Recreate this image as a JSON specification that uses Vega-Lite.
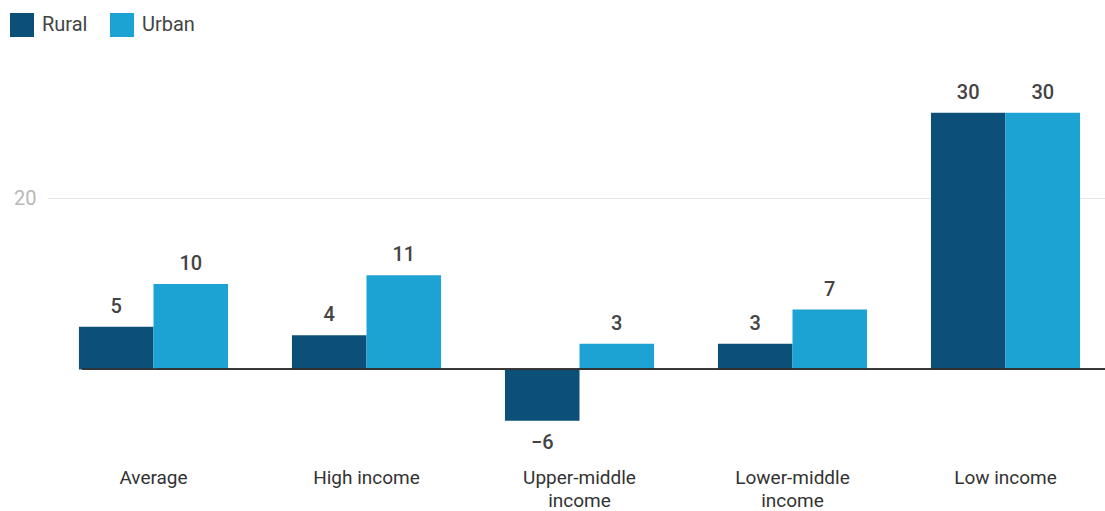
{
  "$schema": "https://vega.github.io/schema/vega-lite/v6.json",
  "autosize": {"type": "none"},
  "padding": {"left": 47, "top": 70, "right": 0, "bottom": 56},
  "width": 1065,
  "height": 385,
  "background": "white",
  "config": {"font": "Roboto", "view": {"stroke": null}},
  "data": {"values": [
    {"group": "Average", "area": "Rural", "value": 5},
    {"group": "Average", "area": "Urban", "value": 10},
    {"group": "High income", "area": "Rural", "value": 4},
    {"group": "High income", "area": "Urban", "value": 11},
    {"group": "Upper-middle income", "area": "Rural", "value": -6},
    {"group": "Upper-middle income", "area": "Urban", "value": 3},
    {"group": "Lower-middle income", "area": "Rural", "value": 3},
    {"group": "Lower-middle income", "area": "Urban", "value": 7},
    {"group": "Low income", "area": "Rural", "value": 30},
    {"group": "Low income", "area": "Urban", "value": 30}
  ]},
  "encoding": {
    "x": {"field": "group", "type": "nominal", "sort": null,
      "scale": {"paddingInner": 0.3, "paddingOuter": 0.15},
      "axis": {"title": null, "domain": false, "ticks": false, "labelAngle": 0,
        "labelFontSize": 19, "labelColor": "#333", "labelPadding": 13,
        "labelExpr": "indexof(datum.value, '-middle') > 0 ? split(datum.value, ' ') : datum.value",
        "labelLineHeight": 23}},
    "xOffset": {"field": "area", "type": "nominal", "sort": ["Rural", "Urban"]}
  },
  "layer": [
    {
      "mark": {"type": "bar"},
      "encoding": {
        "y": {"field": "value", "type": "quantitative",
          "scale": {"domain": [-10, 35], "nice": false, "zero": false},
          "axis": {"title": null, "values": [20], "domain": false, "ticks": false,
            "labelFontSize": 20, "labelColor": "#b8b8b8", "labelPadding": 11,
            "gridColor": "#e8e8e8", "gridWidth": 1}},
        "color": {"field": "area", "type": "nominal",
          "scale": {"domain": ["Rural", "Urban"], "range": ["#0c4f78", "#1ca2d3"]},
          "legend": {"title": null, "orient": "none", "legendX": -37, "legendY": -57,
            "direction": "horizontal", "symbolType": "square", "symbolSize": 576,
            "symbolStrokeWidth": 0, "labelFontSize": 20, "labelColor": "#444",
            "labelOffset": 8, "columnPadding": 22}}
      }
    },
    {
      "transform": [{"filter": "datum.value >= 0"}],
      "mark": {"type": "text", "baseline": "alphabetic", "dy": -14, "fontSize": 20, "fontWeight": 500, "color": "#444"},
      "encoding": {
        "y": {"field": "value", "type": "quantitative"},
        "text": {"field": "value", "type": "quantitative"}
      }
    },
    {
      "transform": [{"filter": "datum.value < 0"}],
      "mark": {"type": "text", "baseline": "alphabetic", "dy": 28, "fontSize": 20, "fontWeight": 500, "color": "#444"},
      "encoding": {
        "y": {"field": "value", "type": "quantitative"},
        "text": {"field": "value", "type": "quantitative"}
      }
    },
    {
      "mark": {"type": "rule", "color": "#333", "strokeWidth": 1.2},
      "encoding": {"y": {"datum": 0}, "x": {"value": -2}, "x2": {"value": 1065}}
    }
  ]
}
